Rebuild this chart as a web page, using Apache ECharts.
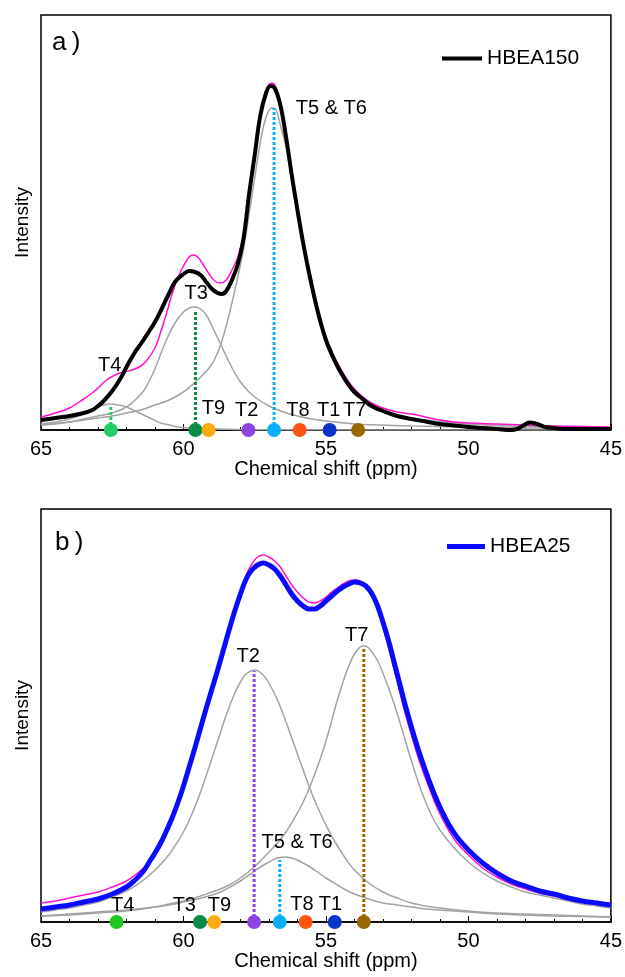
<!DOCTYPE html>
<html>
<head>
<meta charset="utf-8">
<script src="https://cdn.jsdelivr.net/npm/echarts@6/dist/echarts.min.js"></script>
<style>
  html, body { margin: 0; padding: 0; background: #fff; }
  #chart { width: 625px; height: 977px; }
</style>
</head>
<body>
<div id="chart"></div>
<script>
// intensities are arbitrary units (same scale in both panels), x is ppm

// ---- panel a: HBEA150 ----
const hbea150 = [[65,10],[64.5,12],[64,14],[63.5,17],[63.2,20],[63,24],[62.8,29],[62.5,39],[62.2,52],[62,63],
  [61.7,78],[61.5,86],[61.2,99],[61,108],[60.7,125],[60.5,137],[60.3,148],[60,156],[59.8,159],[59.6,158],
  [59.4,155],[59.2,148],[59,141],[58.8,137],[58.65,136],[58.5,139],[58.3,150],[58.1,165],[57.9,190],[57.7,235],
  [57.5,275],[57.3,315],[57.1,337],[56.95,344],[56.8,342],[56.6,325],[56.4,293],[56.2,255],[56,220],[55.8,187],
  [55.6,158],[55.4,132],[55.2,109],[55,90],[54.8,76],[54.6,64],[54.4,54],[54.2,45],[54,38],[53.7,31],
  [53.4,24],[53,19],[52.5,14],[52,11],[51.5,8.5],[51,6],[50.5,4.5],[50,3],[49.5,2],[49,1],
  [48.5,0],[48.3,1],[48.1,4],[47.85,7.5],[47.6,6],[47.3,3],[47,2],[46.5,1],[46,1],[45.5,1],[45,1]];
const fitA = [[65,13],[64.5,17],[64,22],[63.5,31],[63.2,37],[63,42],[62.7,50],[62.4,55],[62.1,58],[61.8,60],
  [61.5,64],[61.3,69],[61,82],[60.8,98],[60.6,116],[60.4,136],[60.2,152],[60,164],[59.8,173],[59.65,175],
  [59.5,173],[59.3,165],[59.1,156],[58.9,149],[58.7,147],[58.5,150],[58.3,160],[58.1,172],[57.9,195],[57.7,237],
  [57.5,278],[57.3,318],[57.1,340],[56.9,347],[56.8,345],[56.6,328],[56.4,296],[56.2,258],[56,223],[55.8,190],
  [55.6,161],[55.4,135],[55.2,112],[55,93],[54.8,79],[54.6,67],[54.4,57],[54.2,48],[54,41],[53.7,33],
  [53.4,27],[53,22],[52.5,18],[52,16],[51.5,13],[51,10],[50.5,8],[50,7],[49,6],[48,5],[47,4],[46,3.5],[45,3]];
const t4A = [[65,6],[64.5,8],[64,11],[63.5,16],[63.2,20],[63,23],[62.8,25],[62.55,26],[62.3,25],[62,23],
  [61.7,19],[61.4,15],[61.1,11],[60.8,7],[60.5,5],[60.2,3],[59.8,2],[59,1],[58,0.5],[56,0.3],[50,0],[45,0]];
const t3A = [[65,5],[64.5,6.5],[64,8],[63.5,11],[63,14],[62.5,17],[62,23],[61.7,30],[61.4,39],[61.2,49],
  [61,61],[60.8,76],[60.6,90],[60.3,107],[60,118],[59.8,122],[59.6,123],[59.4,121],[59.2,115],[59,104],
  [58.8,92],[58.6,80],[58.4,68],[58.2,57],[58,48],[57.7,38],[57.4,31],[57,24],[56.5,18],[56,14],
  [55.5,11],[55,9],[54,6],[53,5],[52,4],[50,3],[48,2],[45,1.5]];
const t56A = [[65,5],[64.5,6],[64,8],[63.5,10],[63,12],[62.5,14],[62,17],[61.5,20],[61,25],[60.5,30],
  [60,38],[59.7,45],[59.4,53],[59.1,62],[58.9,71],[58.7,85],[58.5,104],[58.3,127],[58.1,152],[57.9,180],
  [57.7,215],[57.5,252],[57.3,288],[57.1,313],[56.9,322],[56.75,320],[56.6,305],[56.4,283],[56.2,250],[56,217],
  [55.8,184],[55.6,155],[55.4,128],[55.2,106],[55,87],[54.8,73],[54.6,61],[54.4,51],[54.2,43],[54,36],
  [53.7,29],[53.4,23],[53,19],[52.5,15],[52,12],[51.5,10],[51,8.5],[50,6],[49,4.5],[48,3.5],[47,3],[46,2.5],[45,2]];

// ---- panel b: HBEA25 ----
const hbea25 = [[65,13],[64.5,15],[64,17],[63.5,20],[63,23],[62.5,28],[62,35],[61.7,42],[61.4,51],[61.2,60],
  [61,69],[60.8,79],[60.6,91],[60.4,104],[60.2,119],[60,136],[59.8,155],[59.6,174],[59.4,194],[59.2,214],
  [59,233],[58.8,252],[58.6,272],[58.4,292],[58.2,311],[58,328],[57.8,343],[57.6,352],[57.4,357],[57.2,359],
  [57,357],[56.8,353],[56.6,346],[56.4,337],[56.2,328],[56,321],[55.8,316],[55.6,313],[55.4,313],[55.2,316],
  [55,321],[54.8,326],[54.6,331],[54.4,335],[54.2,338],[54,340],[53.8,339],[53.6,336],[53.4,329],[53.2,317],
  [53,300],[52.8,281],[52.6,259],[52.4,237],[52.2,215],[52,195],[51.8,176],[51.6,159],[51.4,143],[51.2,128],
  [51,115],[50.7,98],[50.4,85],[50,72],[49.5,59],[49,49],[48.5,41],[48,36],[47.5,31],[47,28],
  [46.5,24],[46,21],[45.5,19],[45,17]];
const fitB = [[65,19],[64.5,21],[64,24],[63.5,27],[63,30],[62.5,35],[62,41],[61.7,47],[61.4,54],[61.2,61],
  [61,69],[60.8,78],[60.6,89],[60.4,102],[60.2,116],[60,133],[59.8,152],[59.6,171],[59.4,191],[59.2,211],
  [59,231],[58.8,250],[58.6,270],[58.4,290],[58.2,310],[58,330],[57.8,347],[57.6,358],[57.4,365],[57.2,367],
  [57,365],[56.8,361],[56.6,355],[56.4,346],[56.2,337],[56,330],[55.8,324],[55.6,320],[55.4,319],[55.2,321],
  [55,325],[54.8,330],[54.6,334],[54.4,338],[54.2,341],[54,342],[53.8,341],[53.6,337],[53.4,328],[53.2,314],
  [53,295],[52.8,274],[52.6,252],[52.4,229],[52.2,207],[52,187],[51.8,168],[51.6,151],[51.4,136],[51.2,121],
  [51,108],[50.7,92],[50.4,79],[50,67],[49.5,54],[49,45],[48.5,38],[48,33],[47.5,29],[47,26],
  [46.5,23],[46,21],[45.5,19],[45,17]];
const t2B = [[65,10],[64.5,12],[64,14],[63.5,17],[63,20],[62.5,25],[62,31],[61.7,36],[61.4,42],[61,52],
  [60.6,64],[60.3,76],[60,90],[59.7,108],[59.4,130],[59.1,155],[58.8,181],[58.5,207],[58.2,229],[58,240],
  [57.8,248],[57.5,252],[57.2,247],[57,239],[56.7,222],[56.4,200],[56.1,176],[55.8,152],[55.5,129],[55.2,109],
  [55,97],[54.7,81],[54.3,63],[54,52],[53.5,39],[53,30],[52.5,24],[52,19],[51.5,16],[51,14],
  [50,11],[49,9],[48,8],[47,7],[46,6],[45,5]];
const t7B = [[65,6],[64,7],[63,9],[62,11],[61,15],[60.5,18],[60,21],[59.5,25],[59,30],[58.7,33],
  [58.4,37],[58,44],[57.6,53],[57.3,61],[57,70],[56.7,79],[56.4,90],[56.1,104],[55.8,120],[55.5,140],
  [55.2,163],[55,181],[54.8,201],[54.6,222],[54.4,240],[54.2,256],[54,268],[53.8,275],[53.67,276],[53.5,274],
  [53.2,262],[53,249],[52.7,226],[52.45,204],[52.2,180],[51.9,152],[51.6,127],[51.3,107],[51,92],[50.5,74],
  [50,60],[49.5,49],[49,41],[48.5,35],[48,30],[47.5,27],[47,24],[46.5,21],[46,18],[45.5,16],[45,14]];
const t56B = [[65,6],[64,8],[63,10],[62,12],[61,15],[60.5,17],[60,20],[59.5,23],[59,27],[58.7,30],
  [58.3,36],[58,41],[57.6,49],[57.3,55],[57,60],[56.7,64],[56.4,65],[56.1,63],[55.8,59],[55.5,54],
  [55.2,48],[55,44],[54.6,37],[54.3,32],[54,28],[53.5,23],[53,19],[52.5,17],[52,15],[51.5,13],
  [51,12],[50,10],[49,8],[48,7],[47,6],[46,5.5],[45,5]];

// T-site positions (ppm) as marked on the x axis
const siteNames = ['T4', 'T3', 'T9', 'T2', 'T5 & T6', 'T8', 'T1', 'T7'];
const siteShiftA = [62.55, 59.58, 59.12, 57.72, 56.82, 55.92, 54.87, 53.87];
const siteShiftB = [62.35, 59.42, 58.92, 57.52, 56.62, 55.71, 54.69, 53.67];
// dotted drop lines: site and the height they reach
const dropsA = [['T4', 24], ['T3', 118], ['T5 & T6', 322]];
const dropsB = [['T2', 251], ['T5 & T6', 62], ['T7', 275]];
// annotation text anchors [ppm, intensity, text]
const notesA = [[62.59, 65, 'T4'], [59.55, 137, 'T3'], [54.81, 322, 'T5 & T6'], [58.95, 22, 'T9'],
  [57.78, 20, 'T2'], [55.98, 20, 'T8'], [54.9, 20, 'T1'], [53.99, 20, 'T7']];
const notesB = [[57.73, 266, 'T2'], [53.92, 287, 'T7'], [56.01, 80, 'T5 & T6'], [62.13, 17, 'T4'],
  [59.97, 17, 'T3'], [58.74, 17, 'T9'], [55.84, 18, 'T8'], [54.84, 18, 'T1']];

const siteColor = {
  'T4': '#22cc66', 'T3': '#0b8a48', 'T9': '#ffaa11', 'T2': '#8e44e0',
  'T5 & T6': '#0aaff5', 'T8': '#ff5511', 'T1': '#0a33cc', 'T7': '#996600'
};
const siteColorB = Object.assign({}, siteColor, { 'T4': '#1ec81e' });
const FONT = 'Liberation Sans, Arial, sans-serif';

function panelSeries(idx, expName, expData, expColor, expWidth, fit, comps, shifts, drops, notes, colors) {
  const base = { xAxisIndex: idx, yAxisIndex: idx };
  const out = [];
  comps.forEach(c => out.push(Object.assign({
    type: 'line', data: c, smooth: 0.4, showSymbol: false, silent: true,
    lineStyle: { color: '#a3a3a3', width: 1.5 }, z: 2
  }, base)));
  out.push(Object.assign({
    type: 'line', data: fit, smooth: 0.4, showSymbol: false,
    lineStyle: { color: '#ff11cc', width: 1.5 }, z: 3
  }, base));
  out.push(Object.assign({
    name: expName, type: 'line', data: expData, smooth: 0.4, showSymbol: false, color: expColor,
    lineStyle: { color: expColor, width: expWidth }, z: 4
  }, base));
  drops.forEach(d => {
    const x = shifts[siteNames.indexOf(d[0])];
    out.push(Object.assign({
      type: 'line', data: [[x, 0], [x, d[1]]], showSymbol: false,
      lineStyle: { color: colors[d[0]], width: 3, type: [3, 2] }, z: 5
    }, base));
  });
  out.push(Object.assign({
    type: 'scatter', symbolSize: 14, clip: false, z: 6,
    data: shifts.map((s, i) => ({ value: [s, 0], itemStyle: { color: colors[siteNames[i]], opacity: 1 } }))
  }, base));
  out.push(Object.assign({
    type: 'scatter', symbolSize: 0, clip: false, z: 7, itemStyle: { opacity: 1 },
    data: notes.map(n => ({ value: [n[0], n[1]], name: n[2] })),
    label: { show: true, position: 'inside', formatter: p => p.name,
      fontSize: 20, color: '#000', fontFamily: FONT }
  }, base));
  return out;
}

function xAx(idx) {
  return {
    gridIndex: idx, type: 'value', min: 45, max: 65, interval: 5, inverse: true,
    name: 'Chemical shift (ppm)', nameLocation: 'middle', nameGap: 29,
    nameTextStyle: { fontSize: 20, color: '#000', fontFamily: FONT },
    axisLine: { onZero: false, lineStyle: { color: '#000', width: 1.5 } },
    axisTick: { inside: true, length: 6, lineStyle: { color: '#000' } },
    minorTick: { show: true, splitNumber: 5, length: 3, lineStyle: { color: '#000' } },
    axisLabel: { fontSize: 20, color: '#000', margin: 9, fontFamily: FONT },
    splitLine: { show: false }
  };
}
function yAx(idx, top) {
  return {
    gridIndex: idx, type: 'value', min: 0, max: top,
    name: 'Intensity', nameLocation: 'middle', nameGap: 9, nameRotate: 90,
    nameTextStyle: { fontSize: 19, color: '#000', fontFamily: FONT },
    axisLine: { show: false }, axisTick: { show: false }, axisLabel: { show: false },
    splitLine: { show: false }
  };
}

const chart = echarts.init(document.getElementById('chart'), null, { renderer: 'canvas' });
chart.setOption({
  animation: false,
  backgroundColor: '#fff',
  textStyle: { fontFamily: FONT },
  grid: [
    { left: 41, top: 15, width: 572, height: 415, show: true, borderColor: '#000', borderWidth: 1.5, backgroundColor: 'transparent' },
    { left: 41, top: 509, width: 572, height: 413, show: true, borderColor: '#000', borderWidth: 1.5, backgroundColor: 'transparent' }
  ],
  xAxis: [xAx(0), xAx(1)],
  yAxis: [yAx(0, 415), yAx(1, 413)],
  legend: [
    { data: ['HBEA150'], left: 437, top: 43, icon: 'rect', itemWidth: 40, itemHeight: 4, itemGap: 8,
      textStyle: { fontSize: 21, color: '#000', fontFamily: FONT } },
    { data: ['HBEA25'], left: 442, top: 531, icon: 'rect', itemWidth: 38, itemHeight: 5, itemGap: 8,
      textStyle: { fontSize: 21, color: '#000', fontFamily: FONT } }
  ],
  graphic: [
    { type: 'text', left: 52, top: 30, style: { text: 'a\u2009)', fill: '#000', font: '26px Liberation Sans' } },
    { type: 'text', left: 55, top: 530, style: { text: 'b\u2009)', fill: '#000', font: '26px Liberation Sans' } }
  ],
  series: [].concat(
    panelSeries(0, 'HBEA150', hbea150, '#000000', 4, fitA, [t4A, t3A, t56A], siteShiftA, dropsA, notesA, siteColor),
    panelSeries(1, 'HBEA25', hbea25, '#0a0aff', 5, fitB, [t2B, t7B, t56B], siteShiftB, dropsB, notesB, siteColorB)
  )
});
</script>
</body>
</html>
